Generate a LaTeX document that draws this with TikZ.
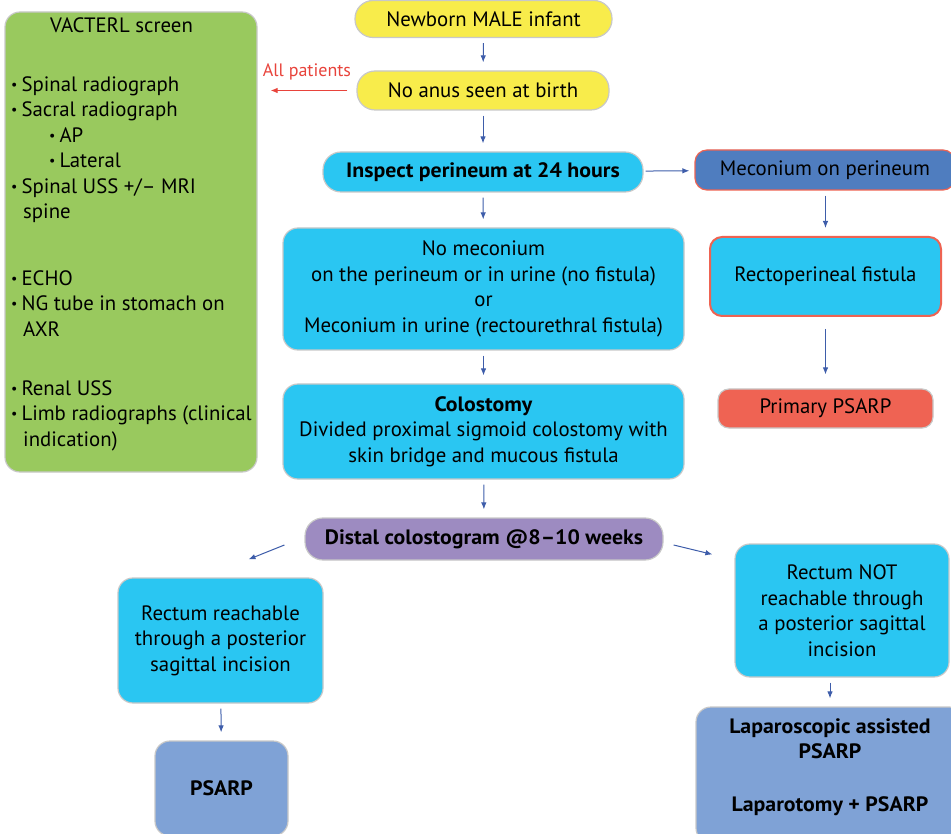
\documentclass[tikz,border=0pt]{standalone}
\usepackage{fontspec}
\setmainfont{PT Sans}[BoldFeatures={FakeStretch=1.05}]
\usetikzlibrary{positioning,arrows.meta}

\definecolor{boxyellow}{HTML}{F8EC4B}
\definecolor{boxcyan}{HTML}{2AC6F2}
\definecolor{boxsteel}{HTML}{4F7DBF}
\definecolor{boxsalmon}{HTML}{EF6353}
\definecolor{boxpurple}{HTML}{9D8BC1}
\definecolor{boxblue}{HTML}{7FA2D6}
\definecolor{boxgreen}{HTML}{99C95E}
\definecolor{boxgray}{HTML}{C8C8C8}
\definecolor{boxred}{HTML}{EE6352}
\definecolor{arrowblue}{HTML}{3E5DAA}
\definecolor{arrowred}{HTML}{E8433B}

\newcommand{\bul}{\raisebox{2pt}{\fontsize{14}{14}\selectfont\textbullet}\hspace{4pt}}

\begin{document}
\begin{tikzpicture}[x=1pt, y=-1pt,
		every node/.style={font=\fontsize{20.8}{25.5}\selectfont, align=center, inner sep=0pt},
		flowbox/.style={draw=boxgray, line width=1.2pt, rounded corners=15pt},
		pillbox/.style={draw=boxgray, line width=1.2pt, rounded corners=18pt},
		redbox/.style={draw=boxred, line width=1.2pt, rounded corners=12pt},
		flowarrow/.style={draw=arrowblue, line width=1pt, -{Latex[length=7pt,width=5.5pt]}, shorten <=5pt, shorten >=8pt},
		redarrow/.style={draw=arrowred, line width=1pt, -{Latex[length=7pt,width=5.5pt]}, shorten <=9pt, shorten >=13pt},
		]
		\useasboundingbox (0,0) rectangle (951,834);
		\clip (0,0) rectangle (951,834);
		
		% VACTERL screen
		\node[flowbox, fill=boxgreen, minimum width=252pt, minimum height=460pt] (vacterl) at (131,242) {};
		\node[anchor=north west, align=left] (vacterllist) at (11,17) {\hspace*{39pt}VACTERL screen\\[33.5pt]
			\bul Spinal radiograph\\
			\bul Sacral radiograph\\
			\hspace*{38pt}\bul AP\\
			\hspace*{38pt}\bul Lateral\\
			\bul Spinal USS +/-- MRI\\
			\hspace*{12pt}spine\\[41pt]
			\bul ECHO\\
			\bul NG tube in stomach on\\
			\hspace*{12pt}AXR\\[33.5pt]
			\bul Renal USS\\
			\bul Limb radiographs (clinical\\
			\hspace*{12pt}indication)};
		
		% main column
		\node[pillbox, fill=boxyellow, minimum width=257pt, minimum height=37pt] (newborn) at (483.5,19) {Newborn MALE infant};
		\node[pillbox, fill=boxyellow, minimum width=252pt, minimum height=39pt] (noanus) at (483,90.5) {No anus seen at birth};
		\node[pillbox, fill=boxcyan, minimum width=320pt, minimum height=40pt] (inspect) at (483,172) {\textbf{Inspect perineum at 24 hours}};
		\node[flowbox, fill=boxcyan, minimum width=401pt, minimum height=122pt] (nomeconium) at (483.5,289) {No meconium\\on the perineum or in urine (no fistula)\\or\\Meconium in urine (rectourethral fistula)};
		\node[flowbox, fill=boxcyan, minimum width=401pt, minimum height=95pt] (colostomy) at (483.5,431.5) {\textbf{Colostomy}\\Divided proximal sigmoid colostomy with\\skin bridge and mucous fistula};
		\node[pillbox, fill=boxpurple, minimum width=358pt, minimum height=42pt] (distal) at (484,539) {\textbf{Distal colostogram @8--10 weeks}};
		
		% right column
		\node[redbox, fill=boxsteel, minimum width=260pt, minimum height=40pt] (meconium) at (825,170) {Meconium on perineum};
		\node[redbox, line width=2pt, fill=boxcyan, minimum width=231pt, minimum height=79pt] (rectoperineal) at (825.5,276.5) {Rectoperineal fistula};
		\node[flowbox, rounded corners=11pt, fill=boxsalmon, minimum width=215pt, minimum height=39pt] (primary) at (825.5,408.5) {Primary PSARP};
		
		% after colostogram
		\node[flowbox, fill=boxcyan, minimum width=205pt, minimum height=125pt] (reachable) at (220.5,640.5) {Rectum reachable\\through a posterior\\sagittal incision};
		\node[flowbox, fill=boxblue, minimum width=133pt, minimum height=95pt] (psarp) at (221.5,788.5) {\textbf{PSARP}};
		\node[flowbox, fill=boxcyan, minimum width=214pt, minimum height=133pt] (notreachable) at (842,610.5) {Rectum NOT\\reachable through\\a posterior sagittal\\incision};
		\node[flowbox, fill=boxblue, minimum width=268pt, minimum height=136pt] (laparoscopic) at (830,775) {};
		\node[anchor=north] (laptext) at ([yshift=-12pt]laparoscopic.north) {\textbf{Laparoscopic assisted}\\\textbf{PSARP}\\[27pt]\textbf{Laparotomy + PSARP}};
		
		% arrows
		\draw[flowarrow] (newborn) -- (noanus);
		\draw[flowarrow] (noanus) -- (inspect);
		\draw[flowarrow] (inspect) -- (nomeconium);
		\draw[flowarrow] (nomeconium) -- (colostomy);
		\draw[flowarrow] (colostomy) -- (distal);
		\draw[flowarrow, shorten <=2pt, shorten >=5pt] (inspect) -- (meconium);
		\draw[flowarrow] (rectoperineal.north |- meconium.south) -- (rectoperineal.north);
		\draw[flowarrow, shorten <=12pt, shorten >=14pt] (rectoperineal) -- (primary);
		\draw[flowarrow, shorten <=0pt, shorten >=0pt] ([xshift=-20pt,yshift=-6pt]distal.west) -- ([xshift=28pt,yshift=18pt]reachable.north);
		\draw[flowarrow, shorten <=0pt, shorten >=0pt] ([xshift=10pt,yshift=-6pt]distal.east) -- ([xshift=-22pt,yshift=-11pt]notreachable.north west);
		\draw[flowarrow] (reachable) -- (psarp);
		\draw[flowarrow] (laparoscopic.north |- notreachable.south) -- (laparoscopic.north);
		\draw[redarrow] (noanus.west) -- (noanus.west -| vacterl.east)
			node[midway, above=10pt, text=arrowred, font=\fontsize{18}{21}\selectfont] (allpatients) {All patients};
	\end{tikzpicture}
\end{document}
